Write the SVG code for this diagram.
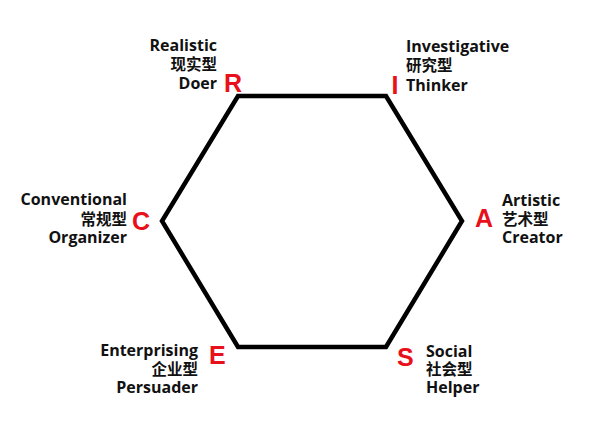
<svg xmlns="http://www.w3.org/2000/svg" width="597" height="434" viewBox="0 0 597 434">
<style>
.lbl{font-family:"Open Sans","Noto Sans CJK SC",sans-serif;font-weight:bold;font-size:16px;fill:#111}
.cjk{font-family:"Noto Sans CJK SC",sans-serif;font-weight:bold;font-size:15.5px;fill:#111}
.ltr{font-family:"Liberation Sans",Arial,sans-serif;font-weight:bold;font-size:25px;fill:#e8101a}
.r{text-anchor:end}
</style>
<rect width="597" height="434" fill="#fff"/>
<g id="connectors">
<polygon points="238,96 386,96 462,221 386,347 238,347 162,221" fill="none" stroke="#000" stroke-width="4.5" stroke-linejoin="miter"/>
</g>
<g id="node-R">
<text class="ltr" x="224" y="92">R</text>
<text class="lbl r" x="217" y="51">Realistic</text>
<text class="cjk r" x="217" y="70">现实型</text>
<text class="lbl r" x="217" y="89">Doer</text>
</g>
<g id="node-I">
<text class="ltr" x="391.5" y="94">I</text>
<text class="lbl" x="406" y="52">Investigative</text>
<text class="cjk" x="406" y="71">研究型</text>
<text class="lbl" x="406" y="91">Thinker</text>
</g>
<g id="node-C">
<text class="ltr" x="132" y="230">C</text>
<text class="lbl r" x="127" y="205">Conventional</text>
<text class="cjk r" x="127" y="225">常规型</text>
<text class="lbl r" x="127" y="243">Organizer</text>
</g>
<g id="node-A">
<text class="ltr" x="475" y="227">A</text>
<text class="lbl" x="502" y="206">Artistic</text>
<text class="cjk" x="502" y="225">艺术型</text>
<text class="lbl" x="502" y="243">Creator</text>
</g>
<g id="node-E">
<text class="ltr" x="209" y="364">E</text>
<text class="lbl r" x="198" y="356">Enterprising</text>
<text class="cjk r" x="198" y="375">企业型</text>
<text class="lbl r" x="198" y="393">Persuader</text>
</g>
<g id="node-S">
<text class="ltr" x="397" y="366">S</text>
<text class="lbl" x="426" y="357">Social</text>
<text class="cjk" x="426" y="375">社会型</text>
<text class="lbl" x="426" y="393">Helper</text>
</g>
</svg>
